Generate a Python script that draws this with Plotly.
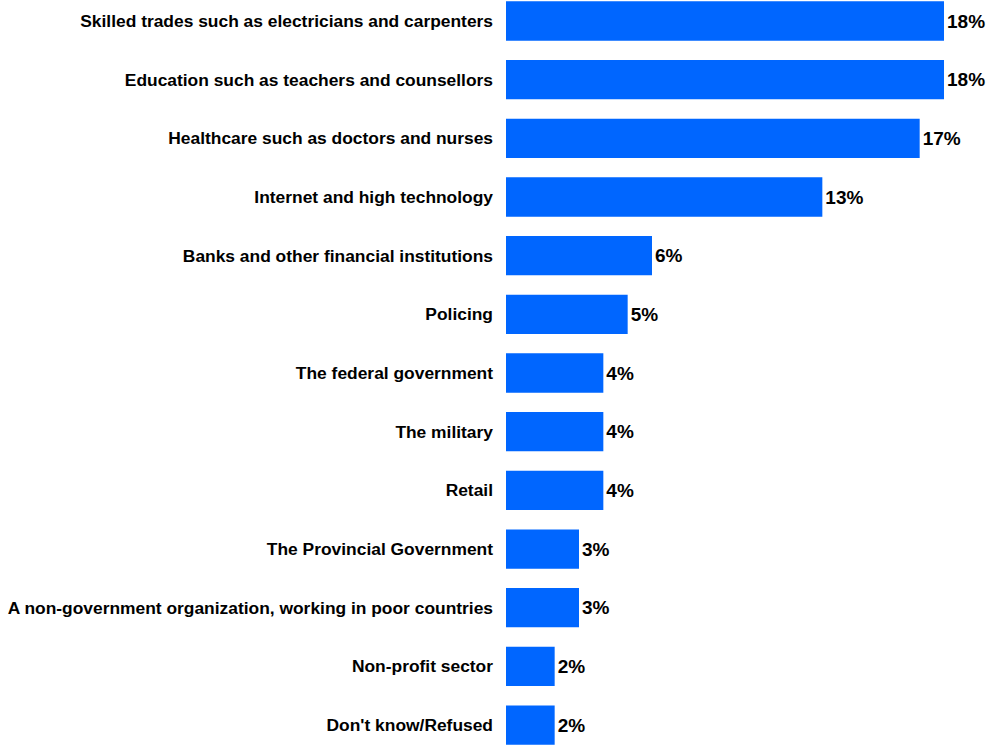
import plotly.graph_objects as go

categories = [
    "Skilled trades such as electricians and carpenters",
    "Education such as teachers and counsellors",
    "Healthcare such as doctors and nurses",
    "Internet and high technology",
    "Banks and other financial institutions",
    "Policing",
    "The federal government",
    "The military",
    "Retail",
    "The Provincial Government",
    "A non-government organization, working in poor countries",
    "Non-profit sector",
    "Don't know/Refused",
]
values = [18, 18, 17, 13, 6, 5, 4, 4, 4, 3, 3, 2, 2]
value_labels = [f"{v}%" for v in values]

FONT = "Liberation Sans Narrow, Arial Narrow, Liberation Sans, Arial, sans-serif"

fig = go.Figure(
    go.Bar(
        x=values,
        y=categories,
        orientation="h",
        marker=dict(color="#0066FF", line=dict(width=0)),
        width=0.67,
        text=value_labels,
        textposition="outside",
        textfont=dict(family=FONT, size=19, color="#000000", weight="bold"),
        cliponaxis=False,
        hoverinfo="skip",
    )
)

fig.update_layout(
    width=990,
    height=745,
    margin=dict(l=506, r=0, t=0, b=0),
    paper_bgcolor="white",
    plot_bgcolor="white",
    showlegend=False,
    xaxis=dict(
        range=[0, 19.89],
        visible=False,
        showgrid=False,
        zeroline=False,
        fixedrange=True,
    ),
    yaxis=dict(
        type="category",
        categoryorder="array",
        categoryarray=categories,
        range=[12.34, -0.358],
        automargin=False,
        showgrid=False,
        zeroline=False,
        showline=False,
        ticks="",
        ticklabelstandoff=12,
        tickfont=dict(family=FONT, size=17.4, color="#000000", weight="bold"),
        fixedrange=True,
    ),
)

fig.write_html("out.html")
